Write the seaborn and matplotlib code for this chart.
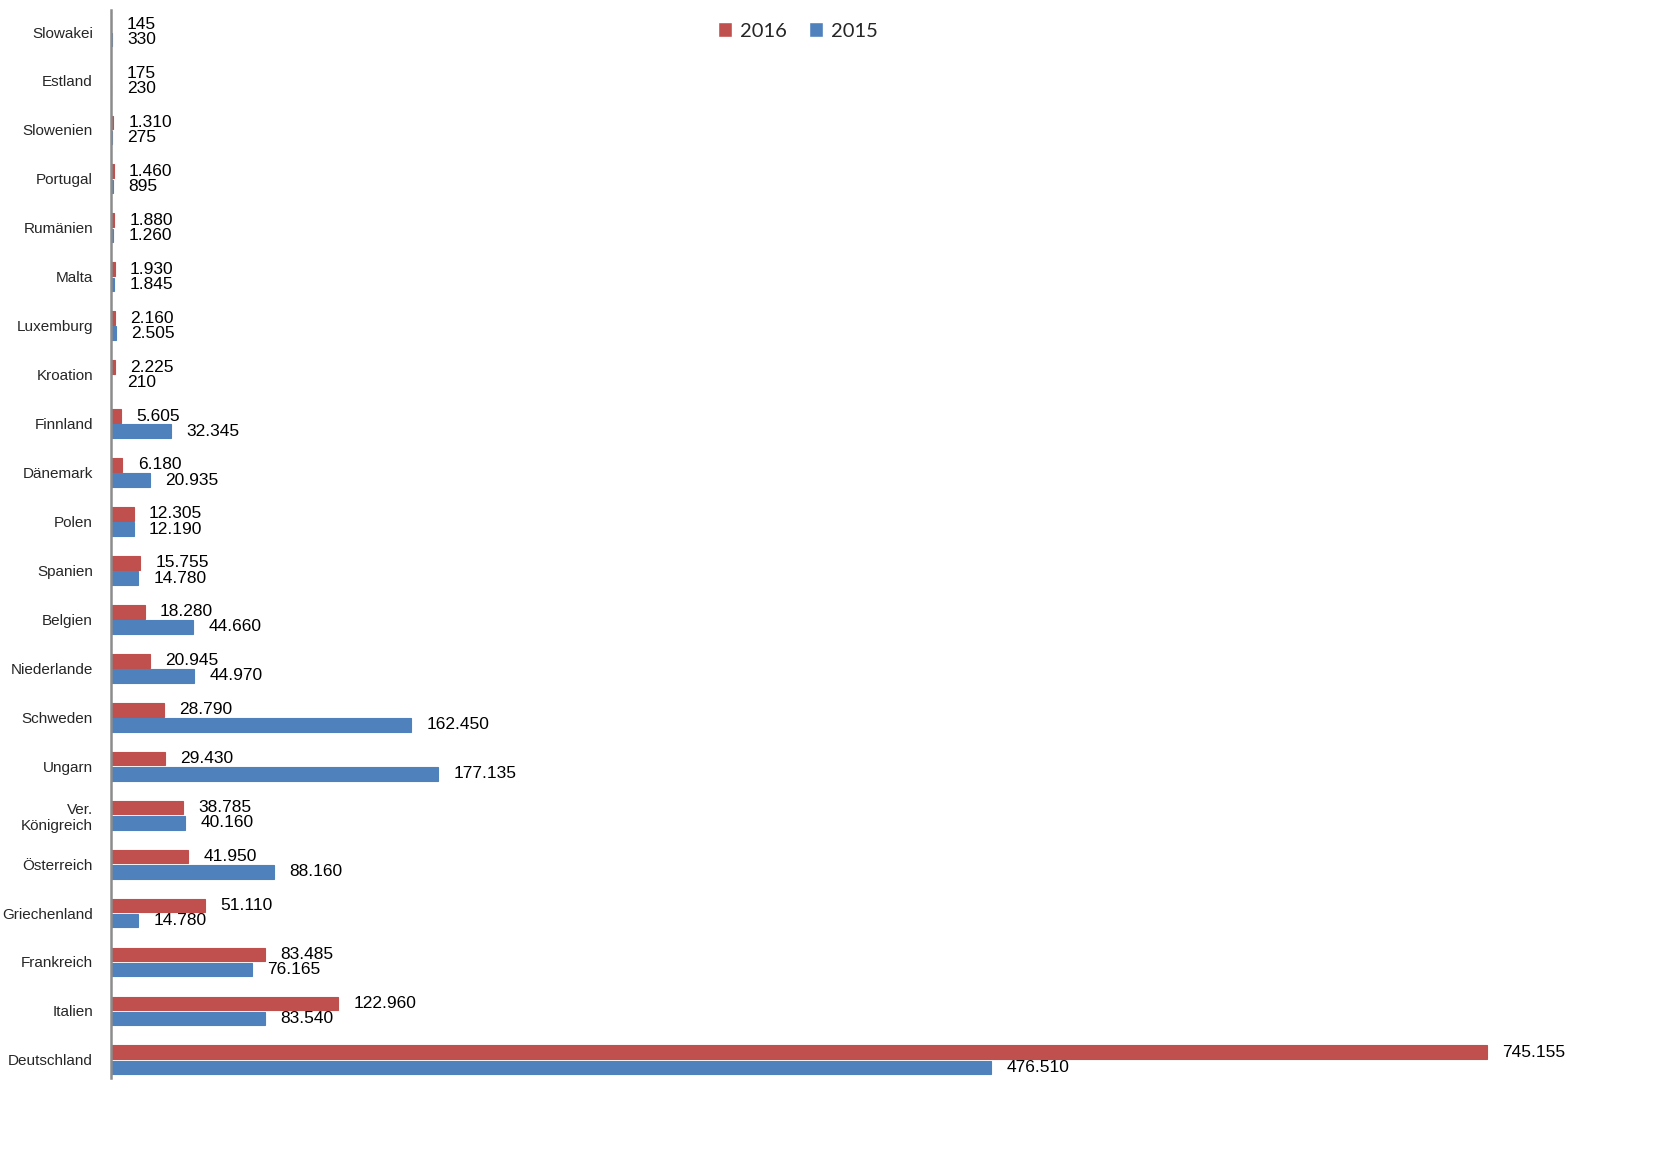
import pandas as pd
import numpy as np
import seaborn as sns
import matplotlib.pyplot as plt
from matplotlib.patches import Patch

countries = ["Slowakei", "Estland", "Slowenien", "Portugal", "Rumänien", "Malta",
             "Luxemburg", "Kroation", "Finnland", "Dänemark", "Polen", "Spanien",
             "Belgien", "Niederlande", "Schweden", "Ungarn", "Ver.\nKönigreich",
             "Österreich", "Griechenland", "Frankreich", "Italien", "Deutschland"]
values_2016 = [145, 175, 1310, 1460, 1880, 1930, 2160, 2225, 5605, 6180, 12305, 15755,
               18280, 20945, 28790, 29430, 38785, 41950, 51110, 83485, 122960, 745155]
values_2015 = [330, 230, 275, 895, 1260, 1845, 2505, 210, 32345, 20935, 12190, 14780,
               44660, 44970, 162450, 177135, 40160, 88160, 14780, 76165, 83540, 476510]
years = ["2016", "2015"]
colors = {"2016": "#C0504D", "2015": "#4F81BD"}

df = pd.DataFrame({
    "Land": countries * 2,
    "Jahr": ["2016"] * len(countries) + ["2015"] * len(countries),
    "Wert": values_2016 + values_2015,
})

sns.set_theme(style="white")
plt.rcParams["font.family"] = ["Liberation Sans", "DejaVu Sans"]

W, H = 1673, 1151
fig = plt.figure(figsize=(W / 100, H / 100), dpi=100)
ax = fig.add_axes([111 / W, 1 - 1078 / H, (1560 - 111) / W, (1078 - 10) / H])

sns.barplot(data=df, y="Land", x="Wert", hue="Jahr", hue_order=years,
            palette=colors, orient="h", width=0.62, gap=0.1, saturation=1,
            legend=False, ax=ax)

# thin edge so tiny bars stay visible, like the original
for cont in ax.containers:
    for b in cont:
        b.set_edgecolor(b.get_facecolor())
        b.set_linewidth(0.8)

# German number format for the labels
for cont in ax.containers:
    labels = [f"{int(b.get_width()):,}".replace(",", ".") for b in cont]
    ax.bar_label(cont, labels=labels, padding=11, fontsize=12.5, color="black")

ax.set_xlim(0, 745155 * (1560 - 111) / 1376)
ax.set_ylim(21.37, -0.45)
ax.set_xlabel("")
ax.set_ylabel("")
ax.set_xticks([])
ax.tick_params(axis="y", length=0, pad=13, labelsize=11)
for s in ["top", "right", "bottom"]:
    ax.spines[s].set_visible(False)
ax.spines["left"].set_color("#8c8c8c")
ax.spines["left"].set_linewidth(1.8)

handles = [Patch(facecolor=colors[y], label=y) for y in years]
fig.legend(handles=handles, loc="center", bbox_to_anchor=(798 / W, 1 - 31 / H),
           ncol=2, frameon=False, handlelength=0.7, handleheight=0.7,
           handletextpad=0.4, columnspacing=1.1,
           prop={"family": ["Lato", "DejaVu Sans"], "size": 14.5})

fig.savefig("out.png", dpi=100)
